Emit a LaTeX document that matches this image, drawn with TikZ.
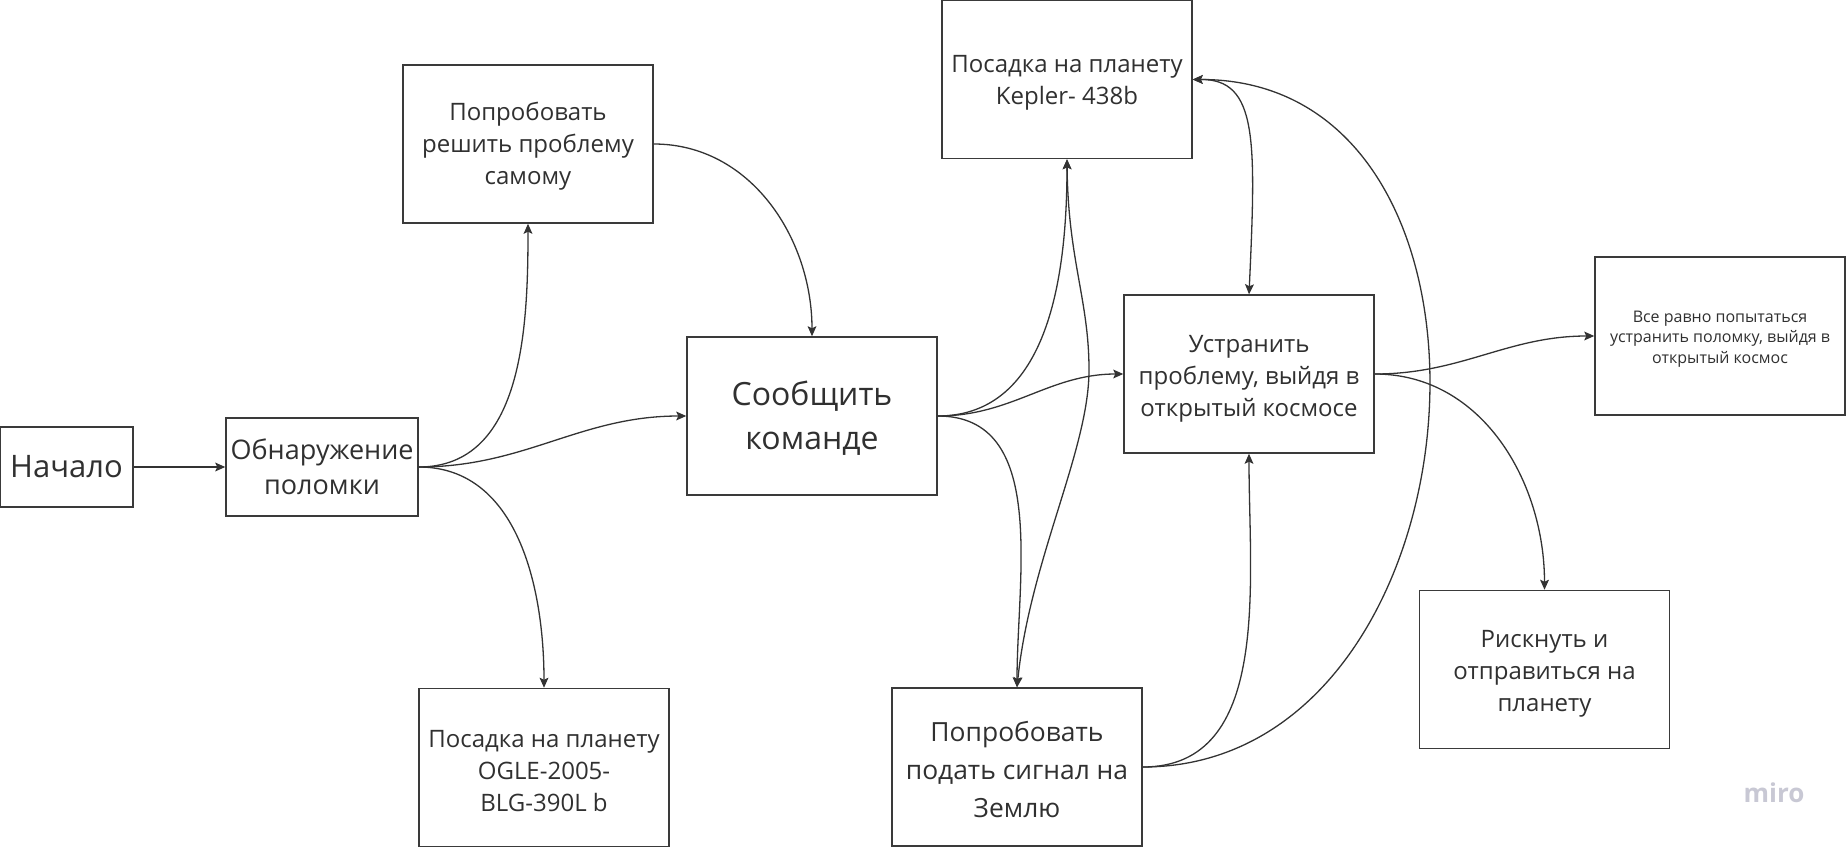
\documentclass[tikz,border=0pt]{standalone}
\usepackage{fontspec}
\setmainfont{Open Sans}
\usetikzlibrary{arrows.meta}
\definecolor{boxc}{HTML}{3A3A3A}
\definecolor{txtc}{HTML}{303030}
\definecolor{linec}{HTML}{333333}
\definecolor{miroc}{HTML}{C8C8D4}
\newcommand\up[1]{\raisebox{#1}{\vphantom{Пб}}}
\tikzset{
  box/.style={draw=boxc, line width=0.75pt, inner sep=0pt, align=center, text=txtc,
    minimum width=125pt, minimum height=79pt, font=\fontsize{12pt}{16pt}\selectfont},
  conn/.style={draw=linec, line width=0.65pt, -{Stealth[length=5pt,width=4.4pt,inset=1pt]}},
  biconn/.style={draw=linec, line width=0.65pt, {Stealth[length=5pt,width=4.4pt,inset=1pt]}-{Stealth[length=5pt,width=4.4pt,inset=1pt]}},
}
\begin{document}
\begin{tikzpicture}[x=0.5pt,y=-0.5pt]
\useasboundingbox (0,0) rectangle (1846,846);
\node[box, minimum width=66.5pt, minimum height=40pt, font=\fontsize{15.5pt}{21pt}\selectfont] (start) at (66.5,467) {Начало};
\node[box, minimum width=96pt, minimum height=49pt, font=\fontsize{13.5pt}{17.5pt}\selectfont] (detect) at (322,467) {Обнаружение\\поломки};
\node[box] (self) at (528,144) {\up{2.6pt}Попробовать\\решить проблему\\самому};
\node[box] (ogle) at (544,767.5) {\up{3pt}Посадка на планету\\OGLE-2005-\\BLG-390L b};
\node[box, font=\fontsize{16pt}{22pt}\selectfont] (team) at (812,416) {\up{2pt}Сообщить\\команде};
\node[box] (kepler) at (1067,79.5) {\up{3pt}Посадка на планету\\Kepler- 438b};
\node[box, font=\fontsize{13.2pt}{19pt}\selectfont] (signal) at (1017,767) {\up{2.4pt}Попробовать\\подать сигнал на\\Землю};
\node[box] (fix) at (1249,374) {\up{4pt}Устранить\\проблему, выйдя в\\открытый космосе};
\node[box, font=\fontsize{8pt}{10.25pt}\selectfont] (anyway) at (1720,336) {\up{2.7pt}Все равно попытаться\\устранить поломку, выйдя в\\открытый космос};
\node[box] (risk) at (1544.5,669.5) {\up{3.3pt}Рискнуть и\\отправиться на\\планету};
\node[text=miroc, font=\fontsize{13pt}{15pt}\selectfont\bfseries, inner sep=0pt] (miro) at (1774,793) {miro};

\draw[conn] (start.east) -- (detect.west);
\draw[conn] (detect.east) to[out=0,in=-90] (self.south);
\draw[conn] (detect.east) to[out=0,in=180] (team.west);
\draw[conn] (detect.east) to[out=0,in=90] (ogle.north);
\draw[conn] (self.east) to[out=0,in=90] (team.north);
\draw[conn] (team.east) to[out=0,in=-90] (kepler.south);
\draw[conn] (team.east) to[out=0,in=180] (fix.west);
\draw[conn] (team.east) to[out=0,in=90] (signal.north);
\draw[conn] (signal.east) to[out=0,in=-90] (fix.south);
\draw[conn] (signal.east) .. controls (1489,767) and (1539,79) .. (kepler.east);
\draw[biconn] (kepler.east) .. controls (1258,79) and (1256,140) .. (fix.north);
\draw[biconn] (kepler.south) .. controls (1068,260) and (1089,300) .. (1089,370)
   .. controls (1089,450) and (1030,560) .. (signal.north);
\draw[conn] (fix.east) to[out=0,in=180] (anyway.west);
\draw[conn] (fix.east) to[out=0,in=90] (risk.north);
\end{tikzpicture}
\end{document}
